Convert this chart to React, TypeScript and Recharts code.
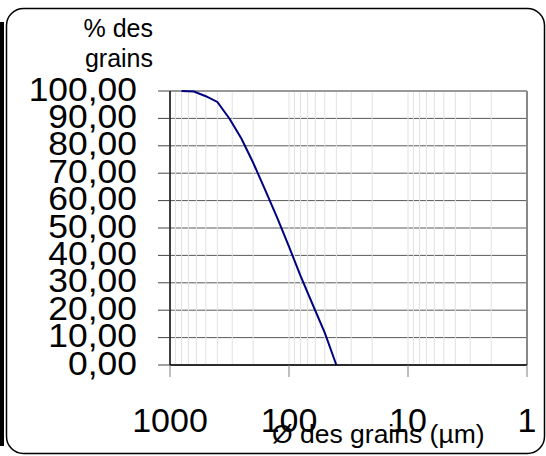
import React from 'react';
import { LineChart, Line, XAxis, YAxis, CartesianGrid, ReferenceLine } from 'recharts';

const sizes = [800, 630, 500, 400, 315, 250, 200, 160, 125, 100, 80, 63, 50, 40];
const passing = [100, 99.8, 98.1, 96, 89.8, 82.5, 73.8, 64.3, 53.5, 43.2, 32.5, 21.9, 11.7, 0];
const xTicks = [1000, 100, 10, 1];
const yTicks = [0, 10, 20, 30, 40, 50, 60, 70, 80, 90, 100];
const minorGrid = [
  2, 3, 4, 5, 6, 7, 8, 9, 10,
  20, 30, 40, 50, 60, 70, 80, 90, 100,
  200, 300, 400, 500, 600, 700, 800, 900,
];

const data = sizes.map((s, i) => ({ size: s, pct: passing[i] }));

const FONT = '"Liberation Sans", Arial, sans-serif';

const fmt = (v: number) => v.toFixed(2).replace('.', ',');

const YTick = (props: any) => {
  const { y, payload } = props;
  return (
    <g transform={`translate(137,${y}) scale(1.09,1)`}>
      <text x={0} y={0} dy={9.5} textAnchor="end" fontSize={32.5} fontFamily={FONT} fill="#000">
        {fmt(payload.value)}
      </text>
    </g>
  );
};

const XTick = (props: any) => {
  const { x, y, payload } = props;
  return (
    <text x={x} y={y} dy={53} textAnchor="middle" fontSize={34} fontFamily={FONT} fill="#000">
      {payload.value}
    </text>
  );
};

export default function App() {
  return (
    <div style={{ position: 'fixed', left: 0, top: 0, width: 546, height: 456, background: '#fff' }}>
      <LineChart
        width={546}
        height={456}
        data={data}
        margin={{ top: 91, right: 19, bottom: 11, left: 20 }}
      >
        <CartesianGrid vertical={false} stroke="#5a5a5a" strokeDasharray="" />
        {minorGrid.map((g) => (
          <ReferenceLine key={g} x={g} stroke="#e2e2e2" strokeWidth={1} ifOverflow="hidden" />
        ))}
        <ReferenceLine y={100} stroke="#999" strokeWidth={2} />
        <ReferenceLine x={1} stroke="#888" strokeWidth={2} />
        <XAxis
          dataKey="size"
          type="number"
          scale="log"
          domain={[1, 1000]}
          reversed
          ticks={xTicks}
          interval={0}
          allowDataOverflow
          height={80}
          tickSize={12}
          tickMargin={2}
          tickLine={{ stroke: '#808080' }}
          axisLine={{ stroke: '#000', strokeWidth: 1.5 }}
          tick={<XTick />}
        />
        <YAxis
          type="number"
          domain={[0, 100]}
          ticks={yTicks}
          interval={0}
          width={150}
          tickSize={12}
          tickMargin={12}
          tickLine={{ stroke: '#444' }}
          axisLine={{ stroke: '#000', strokeWidth: 1.5 }}
          tick={<YTick />}
        />
        <Line
          type="linear"
          dataKey="pct"
          stroke="#000080"
          strokeWidth={2}
          dot={false}
          isAnimationActive={false}
        />
      </LineChart>
      <svg
        width={546}
        height={456}
        style={{ position: 'absolute', left: 0, top: 0, pointerEvents: 'none' }}
      >
        <rect x={6.5} y={8.5} width={538} height={445} rx={17} ry={17} fill="none" stroke="#000" strokeWidth={1.5} />
        <rect x={0} y={22} width={4} height={424} fill="#000" />
        <text fontFamily={FONT} fontSize={25} textAnchor="end" fill="#000">
          <tspan x={153} y={37}>% des</tspan>
          <tspan x={153} y={67}>grains</tspan>
        </text>
        <text x={272} y={443} fontFamily={FONT} fontSize={26.5} fill="#000">
          Ø des grains (µm)
        </text>
      </svg>
    </div>
  );
}
